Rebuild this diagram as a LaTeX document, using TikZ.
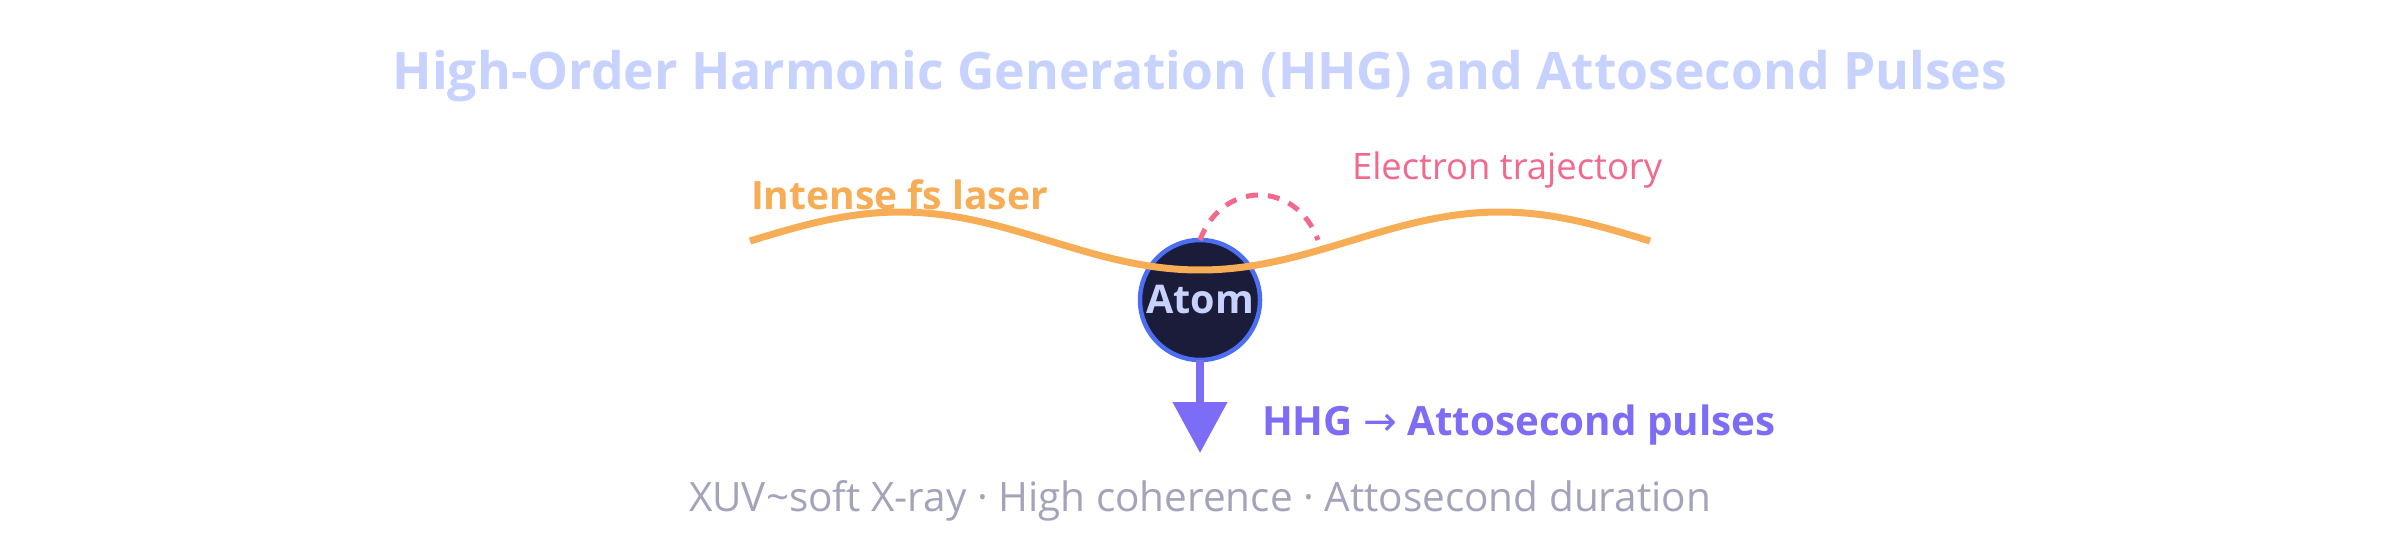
\documentclass[tikz,border=0pt]{standalone}
\usepackage{fontspec}
\setmainfont{Open Sans}
\newfontfamily\arrowfont{DejaVu Sans}
\usetikzlibrary{arrows.meta}
\definecolor{titlecol}{HTML}{C7D2FE}
\definecolor{lasercol}{HTML}{F6AD55}
\definecolor{trajcol}{HTML}{F2698E}
\definecolor{atomline}{HTML}{4C6EF5}
\definecolor{atomfill}{HTML}{1B1B3A}
\definecolor{hhgcol}{HTML}{7C6CF6}
\definecolor{notecol}{HTML}{A3A3BC}
\tikzset{
  lbl/.style={inner sep=0pt, outer sep=0pt},
  atombox/.style={circle, minimum size=120pt, inner sep=0pt, outer sep=0pt,
    draw=atomline, line width=4.5pt, fill=atomfill, text=titlecol,
    font=\fontsize{39.5}{44}\selectfont\bfseries},
  laser/.style={draw=lasercol, line width=7pt},
  traj/.style={draw=trajcol, line width=5pt, dash pattern=on 12pt off 10pt},
  hhgarrow/.style={draw=hhgcol, line width=8pt, -{Triangle[width=53pt,length=51pt]}}
}
\begin{document}
\begin{tikzpicture}[x=1pt,y=-1pt]
\fill[white] (0,0) rectangle (2400,540);
\useasboundingbox (0,0) rectangle (2400,540);
\node[lbl, anchor=base, text=titlecol, font=\fontsize{51.6}{58}\selectfont\bfseries] (title) at (1200,90) {High-Order Harmonic Generation (HHG) and Attosecond Pulses};
\node[atombox] (atom) at (1200,300) {Atom};
\coordinate (laserstart) at (750,241);
\draw[laser] plot[domain=750:1650, samples=150, smooth] (\x, {241-29*sin(0.6*(\x-750))});
\coordinate (trajend) at (1318,240);
\draw[traj] (atom.north) .. controls (1222,180) and (1296,180) .. (trajend);
\coordinate (tip) at (1200,453);
\draw[hhgarrow] (atom.south) -- (tip);
\node[lbl, anchor=base west, text=lasercol, font=\fontsize{39}{44}\selectfont\bfseries] (laserlbl) at (751,210) {Intense fs laser};
\node[lbl, anchor=base west, text=trajcol, font=\fontsize{36.4}{42}\selectfont] (trajlbl) at (1352,180) {Electron trajectory};
\node[lbl, anchor=base west, text=hhgcol, font=\fontsize{40.3}{46}\selectfont\bfseries] (hhglbl) at (1262,435) {HHG {\arrowfont\mdseries →} Attosecond pulses};
\node[lbl, anchor=base, text=notecol, font=\fontsize{40.5}{46}\selectfont] (note) at (1200,511) {XUV\string~soft X-ray · High coherence · Attosecond duration};
\end{tikzpicture}
\end{document}
